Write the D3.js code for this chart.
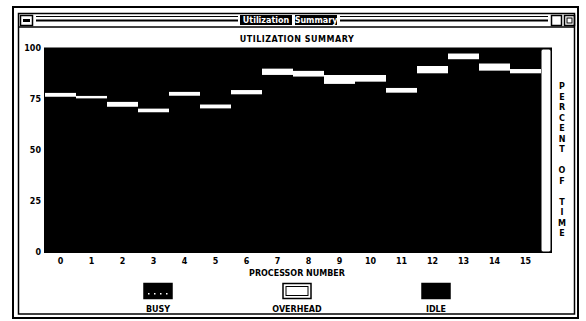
<!DOCTYPE html>
<html>
<head>
<meta charset="utf-8">
<script src="https://cdn.jsdelivr.net/npm/d3@7"></script>
<style>
  body { margin: 0; background: #fff; }
  svg { display: block; }
  text { font-family: "DejaVu Sans", sans-serif; font-weight: bold; fill: #000; }
</style>
</head>
<body>
<svg width="586" height="321"></svg>
<script>
const processors = d3.range(16).map(String)
const busy     = [76.1, 75.3, 71.2, 68.5, 76.6, 70.4, 77.3, 86.8, 86.0, 82.4, 83.5, 78.1, 87.6, 94.5, 88.9, 87.6]
const overhead = [2.0, 1.3, 2.5, 1.9, 2.0, 2.0, 2.1, 3.2, 2.9, 4.4, 3.3, 2.4, 3.6, 2.9, 3.6, 2.1]
const yTicks = [0, 25, 50, 75, 100]
const legendLabels = ['BUSY', 'OVERHEAD', 'IDLE']

const data = processors.map((p, i) => ({
  name: p,
  busy: busy[i],
  overhead: overhead[i],
  idle: 100 - busy[i] - overhead[i]
}))

const svg = d3.select('svg')

// window frame
svg.append('rect').attr('x', 13).attr('y', 7).attr('width', 565).attr('height', 311)
  .attr('fill', 'none').attr('stroke', '#000').attr('stroke-width', 2)
svg.append('rect').attr('x', 18.5).attr('y', 13.5).attr('width', 556).attr('height', 300.5)
  .attr('fill', 'none').attr('stroke', '#000').attr('stroke-width', 1.5)
svg.append('line').attr('x1', 18).attr('x2', 575).attr('y1', 27).attr('y2', 27)
  .attr('stroke', '#000').attr('stroke-width', 1.5)

// title bar
const bar = svg.append('g').attr('class', 'titlebar')
bar.append('rect').attr('x', 20.5).attr('y', 15.5).attr('width', 12).attr('height', 10)
  .attr('fill', 'none').attr('stroke', '#000').attr('stroke-width', 1.5)
bar.append('rect').attr('x', 23).attr('y', 19).attr('width', 7).attr('height', 3).attr('fill', '#000')
bar.append('rect').attr('x', 551.5).attr('y', 15.5).attr('width', 10).attr('height', 10)
  .attr('fill', 'none').attr('stroke', '#000').attr('stroke-width', 1.5)
bar.append('rect').attr('x', 564.5).attr('y', 15.5).attr('width', 10).attr('height', 10)
  .attr('fill', 'none').attr('stroke', '#000').attr('stroke-width', 1.5)
bar.append('rect').attr('x', 567).attr('y', 18).attr('width', 5).attr('height', 5)
  .attr('fill', 'none').attr('stroke', '#000')
bar.selectAll('line.stripe')
  .data([[36, 238], [340, 548]])
  .join('line')
  .attr('class', 'stripe')
  .attr('x1', d => d[0]).attr('x2', d => d[1])
  .attr('y1', 20.5).attr('y2', 20.5)
  .attr('stroke', '#000').attr('stroke-width', 2)
bar.selectAll('line.stripe2')
  .data([[36, 238], [340, 548]])
  .join('line')
  .attr('class', 'stripe2')
  .attr('x1', d => d[0]).attr('x2', d => d[1])
  .attr('y1', 16.5).attr('y2', 16.5)
  .attr('stroke', '#000').attr('stroke-width', 1)
bar.selectAll('rect.tbox')
  .data([[240, 52], [295, 42]])
  .join('rect')
  .attr('class', 'tbox')
  .attr('x', d => d[0]).attr('y', 15).attr('width', d => d[1]).attr('height', 10)
  .attr('fill', '#000')
bar.selectAll('text')
  .data([['Utilization', 266], ['Summary', 316]])
  .join('text')
  .attr('x', d => d[1]).attr('y', 23)
  .attr('text-anchor', 'middle')
  .style('font-size', '8px')
  .style('fill', '#fff')
  .text(d => d[0])

// chart title
svg.append('text')
  .attr('x', 297).attr('y', 42)
  .attr('text-anchor', 'middle')
  .style('font-size', '8px')
  .style('letter-spacing', '0.5px')
  .text('UTILIZATION SUMMARY')

const x = d3.scaleBand()
  .domain(processors)
  .range([45, 541])
  .padding(0)

const y = d3.scaleLinear()
  .domain([0, 100])
  .range([252, 48])

// plot background and right strip
svg.append('rect').attr('x', 44).attr('y', 47.5).attr('width', 508).attr('height', 205.5).attr('fill', '#000')
svg.append('rect').attr('x', 541).attr('y', 49).attr('width', 10).attr('height', 203)
  .attr('rx', 2).attr('fill', '#fff').attr('stroke', '#000').attr('stroke-width', 1)

const series = d3.stack().keys(['busy', 'overhead', 'idle'])(data)
const fills = { busy: '#000', overhead: '#fff', idle: '#000' }

svg.append('g')
  .selectAll('g')
  .data(series)
  .join('g')
  .attr('fill', s => fills[s.key])
  .selectAll('rect')
  .data(s => s)
  .join('rect')
  .attr('x', d => x(d.data.name))
  .attr('y', d => y(d[1]))
  .attr('width', x.bandwidth())
  .attr('height', d => y(d[0]) - y(d[1]))

const yAxis = g => g
  .attr('transform', 'translate(41,0)')
  .call(d3.axisLeft(y).tickValues(yTicks).tickSize(0).tickPadding(0))
  .call(g => g.select('.domain').remove())
  .call(g => g.selectAll('text').style('font-size', '8px').style('font-family', '"DejaVu Sans", sans-serif').style('font-weight', 'bold'))

const xAxis = g => g
  .attr('transform', 'translate(0,256)')
  .call(d3.axisBottom(x).tickSize(0).tickPadding(2))
  .call(g => g.select('.domain').remove())
  .call(g => g.selectAll('text').style('font-size', '8px').style('font-family', '"DejaVu Sans", sans-serif').style('font-weight', 'bold'))

svg.append('g').call(yAxis)
svg.append('g').call(xAxis)

svg.append('text')
  .attr('x', 297).attr('y', 276)
  .attr('text-anchor', 'middle')
  .style('font-size', '8px')
  .text('PROCESSOR NUMBER')

// right vertical label
svg.append('g')
  .selectAll('text')
  .data('PERCENT OF TIME'.split(''))
  .join('text')
  .attr('x', 562)
  .attr('y', (d, i) => 89 + i * 10.5)
  .attr('text-anchor', 'middle')
  .style('font-size', '8px')
  .text(d => d)

// legend
const legendX = [158, 297, 436]
const legend = svg.append('g')
legend.selectAll('rect.swatch')
  .data(legendLabels)
  .join('rect')
  .attr('class', 'swatch')
  .attr('x', (d, i) => legendX[i] - 14)
  .attr('y', 283.5)
  .attr('width', 28)
  .attr('height', 15)
  .attr('fill', (d, i) => i === 1 ? '#fff' : '#000')
  .attr('stroke', '#000')
  .attr('stroke-width', 1.5)
legend.append('rect')
  .attr('x', legendX[1] - 11).attr('y', 286.5).attr('width', 22).attr('height', 9)
  .attr('fill', 'none').attr('stroke', '#000').attr('stroke-width', 1)
// dotted pattern of the busy swatch
legend.selectAll('rect.dot')
  .data([-10, -4, 2, 8])
  .join('rect')
  .attr('class', 'dot')
  .attr('x', d => legendX[0] + d)
  .attr('y', 293)
  .attr('width', 1.5)
  .attr('height', 1.5)
  .attr('fill', '#fff')
legend.selectAll('text')
  .data(legendLabels)
  .join('text')
  .attr('x', (d, i) => legendX[i])
  .attr('y', 312)
  .attr('text-anchor', 'middle')
  .style('font-size', '8px')
  .text(d => d)
</script>
</body>
</html>
